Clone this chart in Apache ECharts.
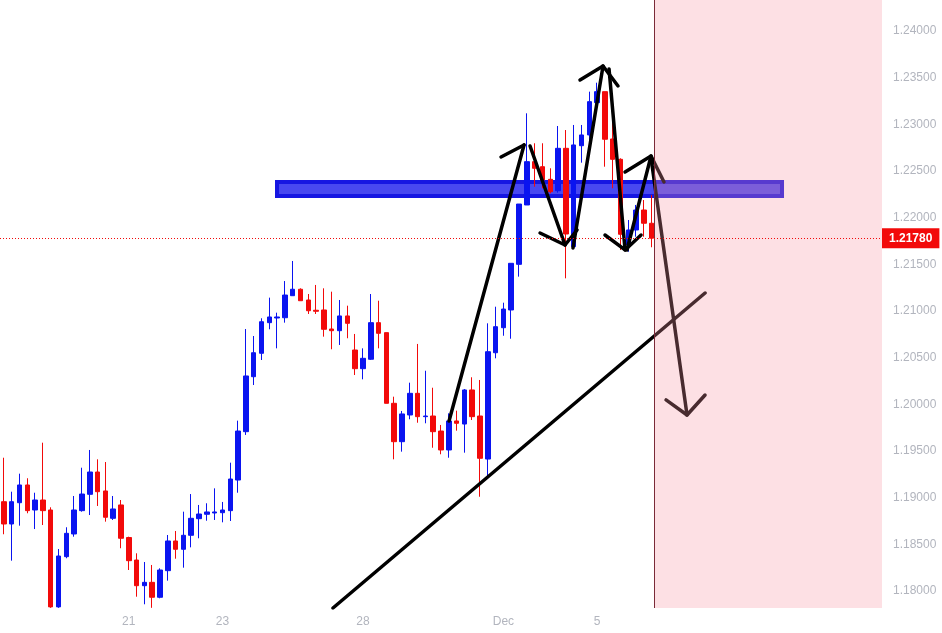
<!DOCTYPE html>
<html><head><meta charset="utf-8">
<script src="https://cdn.jsdelivr.net/npm/echarts@6/dist/echarts.min.js"></script>
<style>html,body{margin:0;padding:0;background:#fff}#c{width:942px;height:633px}</style>
</head><body><div id="c"></div>
<script>
// ---- data ----
const slotCount = 113;                      // visible bar slots on the time axis
const dayLabelIndex = [16, 28, 46, 64, 76]; // slot of each day label
const dayLabels = ['21', '23', '28', 'Dec', '5'];

const open  = [1.18957,1.18718,1.18946,1.19136,1.18868,1.18975,1.18868,1.17830,1.18368,1.18611,
               1.18861,1.19036,1.19275,1.19072,1.18779,1.18922,1.18573,1.18332,1.18057,1.18093,
               1.17933,1.18218,1.18536,1.18447,1.18597,1.18775,1.18822,1.18836,1.18839,1.18861,
               1.19189,1.19707,1.20296,1.20547,1.20875,1.20925,1.20928,1.21164,1.21233,1.21118,
               1.21008,1.21011,1.20807,1.20789,1.20947,1.20582,1.20382,1.20483,1.20875,1.20768,
               1.20011,1.19600,1.19886,1.20118,1.19868,1.19875,1.19714,1.19511,1.19822,1.19789,
               1.20154,1.19875,1.19414,1.20553,1.20821,1.21011,1.21500,1.22136,1.22600,1.22546,
               1.22411,1.22289,1.22743,1.21689,1.22771,1.22886,1.23232,1.23350,1.22843,1.22625,
               1.21707,1.21868,1.22082,1.21940];
const high  = [1.19428,1.19064,1.19257,1.19208,1.19053,1.19589,1.18897,1.18450,1.18683,1.19018,
               1.19321,1.19511,1.19411,1.19382,1.19018,1.18975,1.18582,1.18404,1.18311,1.18279,
               1.18243,1.18600,1.18643,1.18850,1.19039,1.18922,1.18940,1.19100,1.18954,1.19375,
               1.19825,1.20807,1.20732,1.20922,1.21143,1.20982,1.21321,1.21536,1.21243,1.21182,
               1.21279,1.21243,1.21207,1.21118,1.21057,1.20754,1.20600,1.21182,1.21110,1.20768,
               1.20082,1.19929,1.20232,1.20647,1.20360,1.20178,1.19779,1.19904,1.19932,1.20164,
               1.20290,1.20261,1.20868,1.21046,1.21089,1.21511,1.22146,1.23118,1.22797,1.22797,
               1.22529,1.22982,1.22939,1.22993,1.22993,1.23350,1.23446,1.23350,1.23189,1.22636,
               1.21975,1.22136,1.22189,1.22243];
const low   = [1.18608,1.18325,1.18700,1.18833,1.18664,1.18707,1.17820,1.17820,1.18351,1.18582,
               1.18850,1.18814,1.18911,1.18743,1.18761,1.18458,1.18225,1.17939,1.17858,1.17820,
               1.17922,1.18111,1.18346,1.18250,1.18468,1.18565,1.18753,1.18761,1.18736,1.18750,
               1.19053,1.19672,1.20207,1.20475,1.20804,1.20600,1.20875,1.21164,1.21110,1.20968,
               1.20968,1.20725,1.20590,1.20636,1.20708,1.20314,1.20268,1.20475,1.20600,1.20011,
               1.19411,1.19493,1.19840,1.19803,1.19797,1.19535,1.19465,1.19428,1.19718,1.19482,
               1.19832,1.19010,1.19225,1.20493,1.20735,1.20703,1.21368,1.22136,1.22332,1.22315,
               1.22261,1.22268,1.21350,1.21672,1.22589,1.22814,1.23207,1.22546,1.22315,1.21654,
               1.21635,1.21796,1.21796,1.21683];
const close = [1.18718,1.18957,1.19136,1.18861,1.18975,1.18861,1.17830,1.18375,1.18618,1.18868,
               1.19039,1.19275,1.19064,1.18790,1.18879,1.18565,1.18325,1.18057,1.18093,1.17933,
               1.18225,1.18536,1.18447,1.18597,1.18779,1.18825,1.18847,1.18847,1.18868,1.19200,
               1.19714,1.20304,1.20553,1.20885,1.20936,1.20936,1.21171,1.21233,1.21110,1.21003,
               1.20997,1.20804,1.20789,1.20947,1.20868,1.20382,1.20493,1.20875,1.20761,1.20011,
               1.19600,1.19897,1.20118,1.19868,1.19875,1.19707,1.19511,1.19822,1.19797,1.20154,
               1.19868,1.19422,1.20564,1.20832,1.21021,1.21511,1.22146,1.22600,1.22529,1.22404,
               1.22278,1.22743,1.21825,1.22779,1.22886,1.23243,1.23350,1.22840,1.22625,1.21822,
               1.21868,1.22082,1.21940,1.21780];

const yTicks = [1.18,1.185,1.19,1.195,1.20,1.205,1.21,1.215,1.22,1.225,1.23,1.235,1.24];
const yRange = [1.17818, 1.24332];

// drawings, in [slot, price]
const zoneBox = [[35.49, 1.22382], [100.19, 1.22232]];
const forecastStart = 83.79;
const trendLine = [[42.66, 1.17818], [90.33, 1.21193]];
const patternLines = [
  [[57.53,1.19822],[67.14,1.22779]],
  [[64.19,1.22650],[67.14,1.22779]],
  [[67.91,1.22768],[72.39,1.21707]],
  [[69.19,1.21836],[72.39,1.21707],[73.93,1.21868]],
  [[73.41,1.21675],[77.26,1.23625]],
  [[74.31,1.23475],[77.26,1.23625],[79.18,1.23411]],
  [[78.03,1.23593],[80.08,1.21654]],
  [[77.51,1.21814],[80.08,1.21654],[82.13,1.21814]],
  [[80.33,1.21654],[83.41,1.22661]],
  [[80.08,1.22489],[83.41,1.22661],[85.07,1.22382]],
  [[83.41,1.22639],[88.02,1.19886]],
  [[85.33,1.20047],[88.02,1.19886],[90.33,1.20100]]
];

// ---- chart ----
const categories = Array.from({length: slotCount}, (_, i) => String(i));
const candles = open.map((o, i) => [o, close[i], low[i], high[i]]);
const lastPrice = close[close.length - 1];
const gray = '#b2b5be';
const blue = '#0a14f0', red = '#f20a0a';

const lineSeries = patternLines.concat([trendLine]).map(pts => ({
  type: 'line', xAxisIndex: 1, yAxisIndex: 0, data: pts, z: 4,
  symbol: 'none', silent: true, clip: true,
  lineStyle: {color: '#000', width: 3.5, cap: 'round', join: 'round'}
}));

const chart = echarts.init(document.getElementById('c'), null, {renderer: 'canvas'});
chart.setOption({
  animation: false,
  backgroundColor: '#fff',
  grid: {left: 0, right: 60, top: 0, bottom: 25, containLabel: false},
  xAxis: [
    {type: 'category', data: categories, boundaryGap: true,
     axisLine: {show: false}, axisTick: {show: false}, splitLine: {show: false},
     axisLabel: {
       interval: (i) => dayLabelIndex.indexOf(i) >= 0,
       formatter: (v, i) => { const k = dayLabelIndex.indexOf(Number(v)); return k >= 0 ? dayLabels[k] : ''; },
       color: gray, fontSize: 12, margin: 8, fontFamily: 'Liberation Sans, Arial, sans-serif'
     }},
    {type: 'value', min: 0, max: slotCount, show: false}
  ],
  yAxis: [{
    type: 'value', position: 'right', min: yRange[0], max: yRange[1], scale: true,
    axisLine: {show: false}, axisTick: {show: false}, splitLine: {show: false},
    axisLabel: {customValues: yTicks, formatter: v => v.toFixed(5), color: gray, fontSize: 12,
                margin: 11, fontFamily: 'Liberation Sans, Arial, sans-serif'}
  }],
  series: [
    {type: 'line', xAxisIndex: 1, data: [], z: 1, silent: true,
     markArea: {silent: true, z: 1, precision: 6,
       itemStyle: {color: '#4848f0', borderColor: '#1616e2', borderWidth: 4},
       data: [[{coord: zoneBox[0]}, {coord: zoneBox[1]}]]}},
    {type: 'candlestick', data: candles, z: 2, barWidth: 5, silent: true, clip: true,
     itemStyle: {color: blue, color0: red, borderColor: blue, borderColor0: red, borderWidth: 1}},
    ...lineSeries,
    {type: 'line', xAxisIndex: 1, data: [], z: 5, silent: true,
     markArea: {silent: true, z: 5, precision: 6, itemStyle: {color: 'rgba(248,148,162,0.29)'},
       data: [[{xAxis: forecastStart}, {xAxis: slotCount}]]},
     markLine: {silent: true, z: 6, symbol: 'none', precision: 6, label: {show: false},
       lineStyle: {color: '#7a2a38', width: 1, type: 'solid'},
       data: [{xAxis: forecastStart}]}},
    {type: 'line', data: [], z: 7, silent: true,
     markLine: {silent: true, z: 7, symbol: 'none', precision: 6,
       lineStyle: {color: '#f20a0a', width: 1, type: [1, 2]},
       label: {show: true, position: 'end', distance: 0, formatter: () => lastPrice.toFixed(5),
               backgroundColor: '#f20a0a', color: '#fff', fontWeight: 'bold', fontSize: 12,
               padding: [4, 7, 4, 7], fontFamily: 'Liberation Sans, Arial, sans-serif'},
       data: [{yAxis: lastPrice}]}}
  ]
});
</script>
</body></html>
